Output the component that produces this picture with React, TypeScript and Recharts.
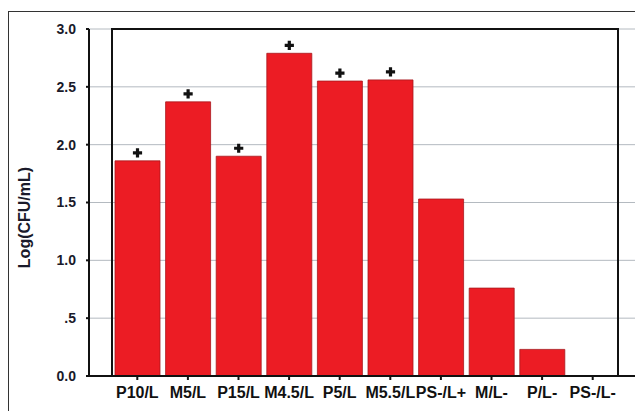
import React from "react";
import {
  BarChart,
  Bar,
  XAxis,
  YAxis,
  CartesianGrid,
  ReferenceArea,
  LabelList,
} from "recharts";

const categories = ["P10/L", "M5/L", "P15/L", "M4.5/L", "P5/L", "M5.5/L", "PS-/L+", "M/L-", "P/L-", "PS-/L-"];
const logCfu = [1.86, 2.37, 1.9, 2.79, 2.55, 2.56, 1.53, 0.76, 0.23, 0];
const significant = [1, 1, 1, 1, 1, 1, 0, 0, 0, 0];
const yTicks = [0, 0.5, 1, 1.5, 2, 2.5, 3];

const data = categories.map((name, i) => ({ name, value: logCfu[i], sig: significant[i] }));

const fmtY = (v: number) => (v === 0 ? "0.0" : v < 1 ? ".5" : v.toFixed(1));

const Marker = (props: any) => {
  const { x, y, width, value } = props;
  if (!value) return null;
  const cx = Number(x) + Number(width) / 2;
  const cy = Number(y) - 8;
  const a = 4.6;
  const t = 1.6;
  return (
    <path
      fill="#111"
      d={`M${cx - t},${cy - a} L${cx + t},${cy - a} L${cx + t},${cy - t} L${cx + a},${cy - t} L${cx + a},${cy + t} L${cx + t},${cy + t} L${cx + t},${cy + a} L${cx - t},${cy + a} L${cx - t},${cy + t} L${cx - a},${cy + t} L${cx - a},${cy - t} L${cx - t},${cy - t} Z`}
    />
  );
};

const YLabel = (props: any) => {
  const vb = props.viewBox || {};
  const x = (vb.x || 0) + 16;
  const y = (vb.y || 0) + (vb.height || 0) / 2 + 15;
  return (
    <text
      x={x}
      y={y}
      transform={`rotate(-90, ${x}, ${y})`}
      textAnchor="middle"
      dominantBaseline="central"
      fontFamily="'Liberation Sans', Arial, sans-serif"
      fontWeight="bold"
      fontSize={16}
      fill="#1a1a2a"
    >
      Log(CFU/mL)
    </text>
  );
};

export default function App() {
  return (
    <div style={{ position: "relative", width: 635, height: 403, overflow: "hidden", fontFamily: "'Liberation Sans', Arial, sans-serif" }}>
      <div
        style={{
          position: "absolute",
          left: 0,
          top: 3,
          width: 800,
          height: 600,
          borderTop: "1px solid #333",
          borderLeft: "1px solid #333",
        }}
      />
      <div style={{ position: "absolute", left: 0, top: 0 }}>
        <BarChart width={635} height={403} data={data} margin={{ top: 21, right: 2, left: 0, bottom: 0 }} barSize={45}>
          <CartesianGrid horizontal vertical={false} stroke="#b4bac0" strokeWidth={1} />
          <ReferenceArea y1={0} y2={3} fill="none" stroke="#111" strokeWidth={2} />
          <XAxis
            dataKey="name"
            interval={0}
            height={35}
            padding={{ left: 23, right: 23 }}
            axisLine={{ stroke: "#111", strokeWidth: 2 }}
            tickLine={{ stroke: "#111", strokeWidth: 2 }}
            tickSize={4}
            tickMargin={7}
            tick={{ fill: "#111", fontSize: 16, fontWeight: "bold", fontFamily: "'Liberation Sans', Arial, sans-serif" }}
          />
          <YAxis
            width={81}
            domain={[0, 3]}
            ticks={yTicks}
            tickFormatter={fmtY}
            axisLine={{ stroke: "#111", strokeWidth: 2 }}
            tickLine={{ stroke: "#111", strokeWidth: 2 }}
            tickSize={3}
            tickMargin={10}
            tick={{ fill: "#1a1a2a", fontSize: 14, fontWeight: "bold", fontFamily: "'Liberation Sans', Arial, sans-serif" }}
            label={<YLabel />}
          />
          <Bar dataKey="value" fill="#ec1c24" stroke="#a8181d" strokeWidth={0.8} isAnimationActive={false}>
            <LabelList dataKey="sig" content={<Marker />} />
          </Bar>
        </BarChart>
      </div>
    </div>
  );
}
